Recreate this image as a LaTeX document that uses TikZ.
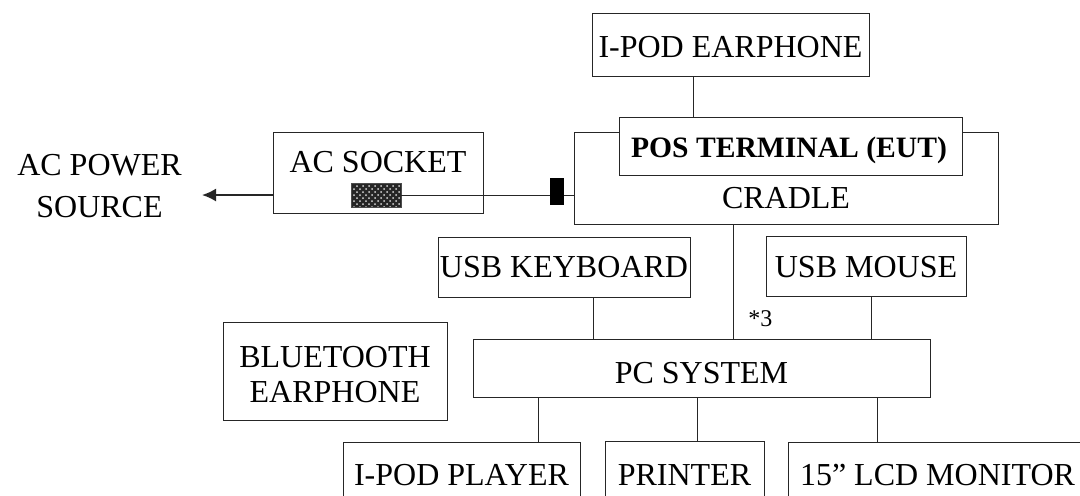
\documentclass[tikz,border=0pt]{standalone}
\usepackage{fontspec}
\setmainfont{Liberation Serif}
\usetikzlibrary{arrows.meta,patterns}
\begin{document}
\begin{tikzpicture}[x=0.5pt,y=-0.5pt,
  box/.style={draw=black!85, line width=0.5pt, inner sep=0pt, fill=white},
  txt/.style={anchor=base, inner sep=0pt, font=\fontsize{16}{19}\selectfont},
  wire/.style={draw=black!85, line width=0.5pt}]
\useasboundingbox[fill=white] (0,0) rectangle (1080,495);

% boxes
\node[box, minimum width=138.5pt, minimum height=31.5pt] (ipe) at (730.5,44.5) {};
\node[box, minimum width=212pt, minimum height=46pt] (cradle) at (786,178) {};
\node[box, minimum width=171.5pt, minimum height=29pt] (pos) at (790.5,146) {};
\node[box, minimum width=105pt, minimum height=40.5pt] (acs) at (378,172.5) {};
\node[box, minimum width=126pt, minimum height=30pt] (kb) at (564,267) {};
\node[box, minimum width=100pt, minimum height=30pt] (mouse) at (866,266) {};
\node[box, minimum width=228.5pt, minimum height=29pt] (pc) at (701.5,368) {};
\node[box, minimum width=112pt, minimum height=49pt] (bt) at (335,371) {};
\node[box, minimum width=118.5pt, minimum height=34pt] (ipp) at (461.5,476) {};
\node[box, minimum width=79.5pt, minimum height=34.5pt] (prn) at (684.5,475.5) {};
\node[box, minimum width=156pt, minimum height=34pt] (lcd) at (944,476) {};

% socket and plug
\node[draw=black!70, line width=0.4pt, inner sep=0pt, minimum width=25pt, minimum height=12pt,
      preaction={fill=black!85}, pattern=crosshatch dots, pattern color=white!70!gray] (sock) at (376,195) {};
\node[fill=black, inner sep=0pt, minimum width=7pt, minimum height=13.5pt] (plug) at (557,191.5) {};
\coordinate (tip) at (202,195);

% texts
\node[txt] (t-ipe) at (730.5,57) {I-POD EARPHONE};
\node[txt, font=\fontsize{14.8}{18}\selectfont\bfseries] (t-pos) at (789,157) {POS TERMINAL (EUT)};
\node[txt] (t-cradle) at (786,208) {CRADLE};
\node[txt] (t-acs) at (378,172) {AC SOCKET};
\node[txt] (t-acp1) at (99.5,175) {AC POWER};
\node[txt] (t-acp2) at (99.5,217) {SOURCE};
\node[txt] (t-kb) at (564,277) {USB KEYBOARD};
\node[txt] (t-mouse) at (866,277) {USB MOUSE};
\node[txt] (t-pc) at (701.5,383) {PC SYSTEM};
\node[txt] (t-bt1) at (335,367) {BLUETOOTH};
\node[txt] (t-bt2) at (335,402) {EARPHONE};
\node[txt] (t-ipp) at (461.5,485) {I-POD PLAYER};
\node[txt] (t-prn) at (684.5,485) {PRINTER};
\node[txt] (t-lcd) at (937.5,485) {15” LCD MONITOR};
\node[anchor=base west, inner sep=0pt, font=\fontsize{12}{14}\selectfont] (star) at (748,326) {*3};

% connectors
\draw[wire] ([xshift=-18.75pt]ipe.south) -- ([xshift=-18.75pt]ipe.south |- pos.north);
\draw[wire] ([xshift=-26.5pt]cradle.south) -- ([xshift=-26.5pt]cradle.south |- pc.north);
\draw[wire] ([xshift=14.5pt]kb.south) -- ([xshift=14.5pt]kb.south |- pc.north);
\draw[wire] ([xshift=2.5pt]mouse.south) -- ([xshift=2.5pt]mouse.south |- pc.north);
\draw[wire] ([xshift=38.25pt]ipp.north |- pc.south) -- ([xshift=38.25pt]ipp.north);
\draw[wire] ([xshift=6.25pt]prn.north |- pc.south) -- ([xshift=6.25pt]prn.north);
\draw[wire] ([xshift=-33.5pt]lcd.north |- pc.south) -- ([xshift=-33.5pt]lcd.north);
\draw[wire] (sock.east) -- (sock.east -| plug.west);
\draw[wire] (plug.east |- sock.east) -- (sock.east -| cradle.west);
\draw[wire, line width=0.9pt, -{Latex[length=7pt,width=6.5pt]}] (acs.west |- tip) -- (tip);
\end{tikzpicture}
\end{document}
